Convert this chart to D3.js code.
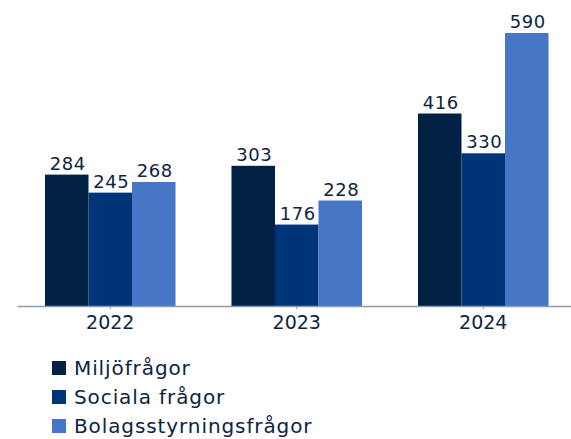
<!DOCTYPE html>
<html>
<head>
<meta charset="utf-8">
<script src="https://cdn.jsdelivr.net/npm/d3@7"></script>
<style>
  body { margin: 0; background: #fff; }
  text { font-family: "DejaVu Sans", sans-serif; fill: #0e2441; }
</style>
</head>
<body>
<div id="chart"></div>
<script>
// Chart data
const years = ["2022", "2023", "2024"];
const seriesNames = ["Miljöfrågor", "Sociala frågor", "Bolagsstyrningsfrågor"];
const miljo = [284, 303, 416];
const sociala = [245, 176, 330];
const bolag = [268, 228, 590];
const colors = ["#012245", "#003478", "#4876c6"];

const width = 571, height = 439;
const baseline = 306;

const svg = d3.select("#chart").append("svg")
    .attr("width", width)
    .attr("height", height);

const x0 = d3.scaleBand()
    .domain(years)
    .range([17, 576.5])
    .paddingInner(0.3)
    .paddingOuter(0.15);

const x1 = d3.scaleBand()
    .domain(seriesNames)
    .range([0, x0.bandwidth()]);

const y = d3.scaleLinear()
    .domain([0, 600])
    .range([baseline, baseline - 600 * 0.4627]);

const allSeries = [miljo, sociala, bolag];

const groups = svg.append("g")
    .selectAll("g")
    .data(years)
    .enter().append("g")
    .attr("transform", d => `translate(${x0(d)},0)`);

groups.selectAll("rect")
    .data((d, i) => seriesNames.map((s, j) => ({ name: s, value: allSeries[j][i], idx: j })))
    .enter().append("rect")
    .attr("x", d => x1(d.name))
    .attr("y", d => y(d.value))
    .attr("width", x1.bandwidth())
    .attr("height", d => baseline - y(d.value))
    .attr("fill", d => colors[d.idx]);

groups.selectAll("text.val")
    .data((d, i) => seriesNames.map((s, j) => ({ name: s, value: allSeries[j][i] })))
    .enter().append("text")
    .attr("class", "val")
    .attr("x", d => x1(d.name) + x1.bandwidth() / 2 + 1)
    .attr("y", d => y(d.value) - 5)
    .attr("text-anchor", "middle")
    .style("font-size", "18px")
    .style("letter-spacing", "0.5px")
    .text(d => d.value);

// x axis
const xAxis = svg.append("g")
    .attr("transform", `translate(0,${baseline})`)
    .call(d3.axisBottom(x0).tickSize(3).tickSizeOuter(0));
xAxis.select(".domain").attr("stroke", "#8c9bb0").attr("stroke-width", 1.5);
xAxis.selectAll(".tick line").attr("stroke", "#8c9bb0");
xAxis.selectAll(".tick text")
    .attr("y", 10)
    .style("font-size", "19px")
    .attr("fill", "#0e2441");

// legend
const legend = svg.append("g")
    .selectAll("g")
    .data(seriesNames)
    .enter().append("g")
    .attr("transform", (d, i) => `translate(52,${361 + i * 29})`);

legend.append("rect")
    .attr("width", 14)
    .attr("height", 14)
    .attr("fill", (d, i) => colors[i]);

legend.append("text")
    .attr("x", 22)
    .attr("y", 14)
    .style("font-size", "20px")
    .style("letter-spacing", "0.9px")
    .text(d => d);
</script>
</body>
</html>
